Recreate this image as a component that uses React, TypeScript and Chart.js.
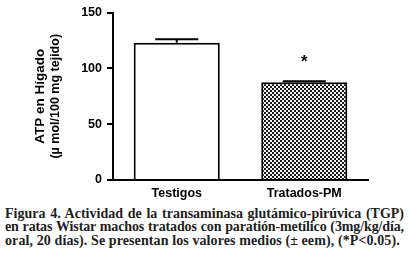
import React, { useEffect, useRef } from "react";
import { Chart, registerables } from "chart.js";

Chart.register(...registerables);

const categories = ["Testigos", "Tratados-PM"];
const means = [123, 87.5];
const sems = [3, 1];
const significance = ["", "*"];
const yTicks = [0, 50, 100, 150];
const yTitle = ["ATP en Hígado", "(µ mol/100 mg tejido)"];
const captionLines = [
  "Figura 4. Actividad de la transaminasa glutámico-pirúvica (TGP)",
  "en ratas Wistar machos tratados con paratión-metílico (3mg/kg/día,",
  "oral, 20 días). Se presentan los valores medios (± eem), (*P<0.05).",
];

const SANS = "Arial, 'Liberation Sans', sans-serif";

function makePattern(): CanvasPattern | string {
  const tile = document.createElement("canvas");
  tile.width = 4;
  tile.height = 4;
  const t = tile.getContext("2d");
  if (!t) return "#888";
  t.fillStyle = "#f2f2f2";
  t.fillRect(0, 0, 4, 4);
  t.fillStyle = "#1a1a1a";
  t.fillRect(0, 0, 2, 2);
  t.fillRect(2, 2, 2, 2);
  const c = document.createElement("canvas").getContext("2d");
  const p = c ? c.createPattern(tile, "repeat") : null;
  return p || "#888";
}

const errorBarPlugin = {
  id: "errorBars",
  afterDatasetsDraw(chart: any) {
    const { ctx, scales } = chart;
    const meta = chart.getDatasetMeta(0);
    const y = scales.y;
    ctx.save();
    ctx.strokeStyle = "#000";
    ctx.lineWidth = 2;
    meta.data.forEach((bar: any, i: number) => {
      const x = bar.x;
      const yTop = y.getPixelForValue(means[i] + sems[i]);
      const yMean = y.getPixelForValue(means[i]);
      const half = bar.width / 4;
      ctx.beginPath();
      ctx.moveTo(x, yMean);
      ctx.lineTo(x, yTop);
      ctx.moveTo(x - half, yTop);
      ctx.lineTo(x + half, yTop);
      ctx.stroke();
      if (significance[i]) {
        ctx.fillStyle = "#000";
        ctx.font = `bold 17px ${SANS}`;
        ctx.textAlign = "center";
        ctx.textBaseline = "middle";
        ctx.fillText(significance[i], x, yTop - 19);
      }
    });
    ctx.restore();
  },
};

const yTitlePlugin = {
  id: "yTitle2",
  afterDraw(chart: any) {
    const { ctx, chartArea, scales } = chart;
    const left = scales.y.left;
    const cy = (chartArea.top + chartArea.bottom) / 2;
    const sizes = [13.5, 12.5];
    const xs = [40, 56];
    ctx.save();
    ctx.fillStyle = "#000";
    ctx.textAlign = "center";
    ctx.textBaseline = "middle";
    yTitle.forEach((line, i) => {
      ctx.save();
      ctx.translate(left + xs[i], cy);
      ctx.rotate(-Math.PI / 2);
      ctx.font = `bold ${sizes[i]}px ${SANS}`;
      ctx.fillText(line, 0, 0);
      ctx.restore();
    });
    ctx.restore();
  },
};

const captionSpacing = ["0px", "-0.12px", "0.1px"];

export default function App() {
  const ref = useRef<HTMLCanvasElement>(null);
  useEffect(() => {
    if (!ref.current) return;
    const pattern = makePattern();
    const chart = new Chart(ref.current, {
      type: "bar",
      data: {
        labels: categories,
        datasets: [
          {
            data: means,
            backgroundColor: ["#ffffff", pattern as any],
            borderColor: "#000",
            borderWidth: 2,
            borderSkipped: "bottom",
            categoryPercentage: 1,
            barPercentage: 0.675,
          },
        ],
      },
      options: {
        animation: false,
        responsive: false,
        maintainAspectRatio: false,
        layout: { padding: { top: 11, right: 41, left: 0, bottom: 0 } },
        plugins: { legend: { display: false }, tooltip: { enabled: false }, title: { display: false } },
        scales: {
          x: {
            grid: { display: false, drawTicks: false },
            border: { display: true, color: "#000", width: 2 },
            ticks: {
              color: "#000",
              padding: 6,
              font: { family: SANS, size: 12.5, weight: "bold" },
            },
            afterFit: (s: any) => {
              s.height = 20;
            },
          },
          y: {
            min: 0,
            max: 150,
            afterBuildTicks: (s: any) => {
              s.ticks = yTicks.map((v) => ({ value: v }));
            },
            grid: {
              display: true,
              drawOnChartArea: false,
              drawTicks: true,
              tickLength: 6,
              lineWidth: 2,
              color: "#000",
            },
            border: { display: true, color: "#000", width: 2 },
            ticks: {
              color: "#000",
              padding: 5,
              font: { family: SANS, size: 12.5, weight: "bold" },
            },
            title: { display: false },
            afterFit: (s: any) => {
              s.width = 113;
            },
          },
        },
      },
      plugins: [errorBarPlugin, yTitlePlugin],
    });
    return () => chart.destroy();
  }, []);

  return (
    <div style={{ position: "fixed", left: 0, top: 0, width: 409, height: 260, background: "#fff" }}>
      <canvas ref={ref} width={409} height={200} style={{ display: "block", width: 409, height: 200 }} />
      <div
        style={{
          position: "absolute",
          left: 5,
          top: 206.5,
          width: 399,
          fontFamily: "'Liberation Serif', 'DejaVu Serif', serif",
          fontWeight: "bold",
          fontSize: 14,
          lineHeight: "13.5px",
          color: "#1e1e1e",
        }}
      >
        {captionLines.map((line, i) => (
          <div
            key={i}
            style={{
              textAlign: i < captionLines.length - 1 ? "justify" : "left",
              textAlignLast: i < captionLines.length - 1 ? "justify" : "left",
              whiteSpace: "nowrap",
              letterSpacing: captionSpacing[i],
            }}
          >
            {line}
          </div>
        ))}
      </div>
    </div>
  );
}
